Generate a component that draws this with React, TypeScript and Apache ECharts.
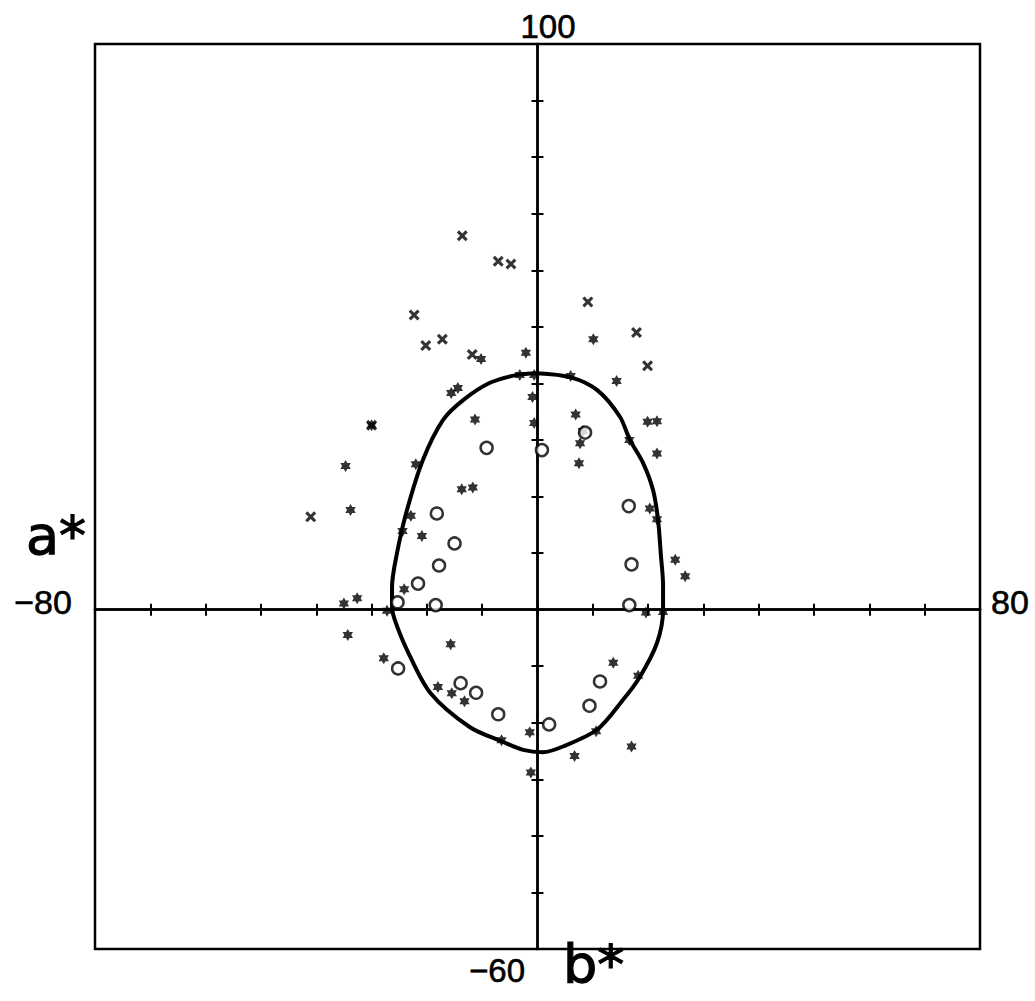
import React, { useEffect, useRef } from "react";
import * as echarts from "echarts";

// Axis extents and tick step
const aMin = -80;
const aMax = 80;
const bMin = -60;
const bMax = 100;
const tickStep = 10;

// Axis end labels
const aLowLabel = "\u221280";
const aHighLabel = "80";
const bLowLabel = "\u221260";
const bHighLabel = "100";
const aName = "a*";
const bName = "b*";

// Closed boundary curve, [a*, b*]
const boundary: [number, number][] = [
  [-0.1, 41.8], [5.9, 41.1], [10.8, 38.8], [14.9, 34.1], [16.7, 30.0],
  [19.1, 25.9], [20.9, 21.1], [21.8, 15.8], [22.3, 9.7], [22.7, 4.4],
  [22.7, 0.0], [21.6, -5.9], [18.5, -11.9], [15.5, -15.9], [10.8, -21.2],
  [4.6, -24.2], [1.0, -25.2], [-2.6, -24.8], [-6.2, -23.4], [-12.2, -20.8],
  [-19.4, -14.7], [-23.6, -7.1], [-25.8, -1.8], [-26.3, 0.5], [-26.3, 4.0],
  [-25.4, 10.0], [-23.6, 17.6], [-20.7, 26.5], [-17.1, 33.5], [-13.5, 37.0],
  [-8.6, 40.1], [-3.7, 41.5], [-0.1, 41.8],
];

// Samples marked with a cross
const crossPoints: [number, number][] = [
  [-13.6, 66.1], [-7.1, 61.6], [-4.8, 61.1], [-22.3, 52.1], [-20.2, 46.7],
  [-17.2, 47.8], [-11.8, 45.1], [9.1, 54.4], [17.9, 49.0], [19.9, 43.1],
  [-30.0, 32.6], [-41.0, 16.4],
];

// Samples marked with an open circle
const circlePoints: [number, number][] = [
  [-9.2, 28.6], [0.8, 28.2], [8.6, 31.3], [-18.2, 17.0], [-15.0, 11.7],
  [-17.8, 7.8], [-21.6, 4.6], [-25.3, 1.3], [-18.4, 0.8], [-25.2, -10.4],
  [-13.9, -13.0], [-11.1, -14.7], [-7.1, -18.5], [2.1, -20.3], [9.4, -17.0],
  [11.3, -12.7], [16.6, 0.8], [17.0, 8.0], [16.5, 18.3],
];

// Samples marked with a star
const starPoints: [number, number][] = [
  [-10.2, 44.3], [-2.1, 45.4], [-3.2, 41.5], [-0.6, 41.5], [-0.9, 37.6],
  [-15.6, 38.3], [-14.4, 39.2], [-11.3, 33.6], [10.1, 47.8], [6.0, 41.3],
  [14.3, 40.4], [6.9, 34.5], [7.7, 29.4], [7.5, 25.9], [-0.6, 33.0],
  [19.9, 33.2], [21.6, 33.3], [16.6, 30.0], [21.6, 27.6], [20.3, 17.9],
  [21.6, 16.0], [24.9, 8.8], [26.7, 5.9], [19.6, -0.5], [22.7, -0.4],
  [-30.0, 32.6], [-34.7, 25.4], [-22.0, 25.7], [-33.8, 17.6], [-22.9, 16.6],
  [-24.4, 13.9], [-20.9, 13.0], [-13.7, 21.3], [-11.7, 21.6], [-24.1, 3.6],
  [-32.6, 2.0], [-35.0, 1.1], [-27.2, -0.2], [-34.3, -4.5], [-27.8, -8.6],
  [-15.7, -6.1], [-18.0, -13.7], [-15.5, -14.8], [-13.2, -16.2], [-6.5, -23.1],
  [-1.4, -21.7], [-1.2, -28.8], [6.7, -25.9], [17.0, -24.2], [10.6, -21.5],
  [13.7, -9.4], [18.2, -11.7], [8.2, 31.6],
];

const STAR_PATH =
  "path://M10,0L12.9,5L18.66,5L15.8,10L18.66,15L12.9,15L10,20L7.1,15L1.34,15L4.2,10L1.34,5L7.1,5Z";
const CROSS_PATH =
  "path://M0,2L2,0L5,3L8,0L10,2L7,5L10,8L8,10L5,7L2,10L0,8L3,5Z";

const INK = "#000";
const NUM_FONT = "'Liberation Sans', Arial, sans-serif";
const NAME_FONT = "'DejaVu Sans', 'Liberation Sans', sans-serif";

function makeAxis(min: number, max: number, position: string) {
  return {
    type: "value",
    min,
    max,
    interval: tickStep,
    position,
    axisLine: {
      show: true,
      onZero: true,
      onZeroAxisIndex: 0,
      lineStyle: { color: INK, width: 2.5 },
    },
    axisTick: { show: true, inside: false, length: 6, lineStyle: { color: INK, width: 2 } },
    axisLabel: { show: false },
    splitLine: { show: false },
  };
}

export default function App() {
  const ref = useRef<HTMLDivElement>(null);

  useEffect(() => {
    if (!ref.current) return;
    const chart = echarts.init(ref.current, null, { renderer: "svg" });

    const text = (
      str: string,
      x: number,
      y: number,
      size: number,
      family: string,
      align: string = "center",
      stroke: number = 0.6
    ) => ({
      type: "text",
      x,
      y,
      silent: true,
      style: {
        text: str,
        fill: INK,
        stroke: INK,
        lineWidth: stroke,
        font: `${size}px ${family}`,
        textAlign: align,
        textVerticalAlign: "middle",
      },
    });

    chart.setOption({
      animation: false,
      backgroundColor: "#fff",
      grid: {
        left: 95,
        right: 55,
        top: 44,
        bottom: 52,
        show: true,
        borderColor: INK,
        borderWidth: 2.5,
        backgroundColor: "transparent",
        containLabel: false,
        outerBoundsMode: "none",
      },
      xAxis: [makeAxis(aMin, aMax, "bottom"), makeAxis(aMin, aMax, "top")],
      yAxis: [makeAxis(bMin, bMax, "left"), makeAxis(bMin, bMax, "right")],
      graphic: [
        text(bHighLabel, 548, 26, 33, NUM_FONT),
        text(bLowLabel, 497, 970, 33, NUM_FONT),
        text(bName, 563, 964, 54, NAME_FONT, "left", 1.2),
        text(aLowLabel, 43, 602, 34, NUM_FONT),
        text(aHighLabel, 1010, 602, 34, NUM_FONT),
        text(aName, 26, 535, 54, NAME_FONT, "left", 1.2),
      ],
      series: [
        {
          type: "line",
          data: boundary,
          smooth: 0.3,
          showSymbol: false,
          symbol: "none",
          lineStyle: { color: INK, width: 4 },
          z: 3,
          silent: true,
        },
        {
          type: "scatter",
          data: crossPoints,
          symbol: CROSS_PATH,
          symbolSize: 11,
          symbolKeepAspect: true,
          itemStyle: { color: INK },
          z: 4,
        },
        {
          type: "scatter",
          data: starPoints,
          symbol: STAR_PATH,
          symbolSize: 12,
          symbolKeepAspect: true,
          itemStyle: { color: INK },
          z: 4,
        },
        {
          type: "scatter",
          data: circlePoints,
          symbol: "circle",
          symbolSize: 12,
          itemStyle: { color: "#fff", borderColor: INK, borderWidth: 2.5 },
          z: 5,
        },
      ],
    });

    return () => chart.dispose();
  }, []);

  return (
    <div
      ref={ref}
      style={{ position: "absolute", left: 0, top: 0, width: 1035, height: 1001, background: "#fff" }}
    />
  );
}
